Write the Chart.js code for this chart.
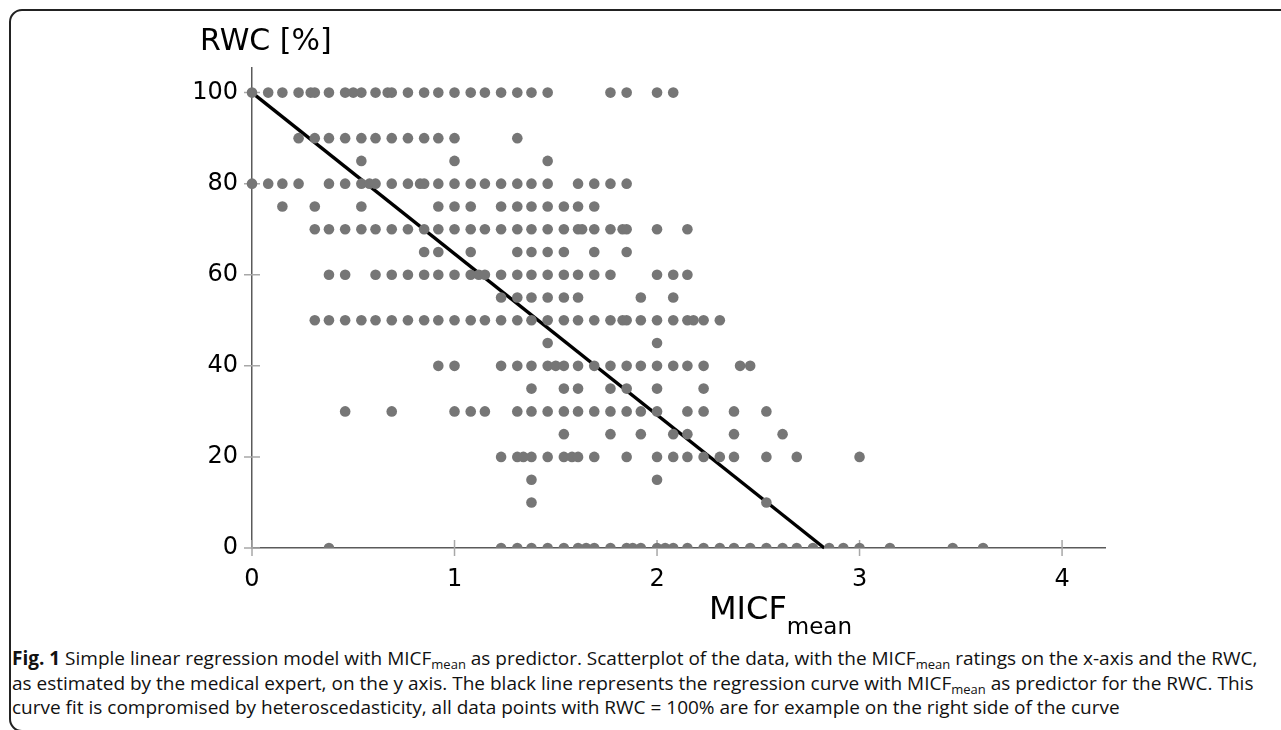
<!DOCTYPE html>
<html>
<head>
<meta charset="utf-8">
<script src="https://cdn.jsdelivr.net/npm/chart.js@4/dist/chart.umd.min.js"></script>
<style>
  html, body { margin: 0; padding: 0; background: #fff; width: 1281px; height: 730px; overflow: hidden; }
  #frame { position: absolute; left: 9px; top: 9px; width: 1320px; height: 723px; box-sizing: border-box;
           border: 2px solid #222; border-radius: 13px; }
  #plot { position: absolute; left: 0; top: 0; }
  .axt { position: absolute; font-family: "DejaVu Sans", sans-serif; color: #000; line-height: 1; white-space: nowrap; }
  #ytitle { left: 200px; top: 25px; font-size: 30px; }
  #xtitle { left: 709px; top: 592px; font-size: 32px; }
  #xtitle sub { font-size: 23px; vertical-align: -15px; line-height: 1; }
  .cap { position: absolute; left: 12px; font-family: "Open Sans", sans-serif; font-size: 19px; line-height: 24px;
         color: #111; white-space: nowrap; }
  .cap sub { font-size: 13px; vertical-align: -4px; line-height: 1; }
</style>
</head>
<body>
<div id="frame"></div>
<canvas id="plot" width="1281" height="640"></canvas>
<div class="axt" id="ytitle">RWC [%]</div>
<div class="axt" id="xtitle">MICF<sub>mean</sub></div>
<div class="cap" style="top:646px"><b>Fig. 1</b> Simple linear regression model with MICF<sub>mean</sub> as predictor. Scatterplot of the data, with the MICF<sub>mean</sub> ratings on the x-axis and the RWC,</div>
<div class="cap" style="top:671px">as estimated by the medical expert, on the y axis. The black line represents the regression curve with MICF<sub>mean</sub> as predictor for the RWC. This</div>
<div class="cap" style="top:695px">curve fit is compromised by heteroscedasticity, all data points with RWC = 100% are for example on the right side of the curve</div>
<script>
// RWC levels (y) and the MICF_mean values (x) observed at each level
const rwcLevels = [100, 90, 85, 80, 75, 70, 65, 60, 55, 50, 45, 40, 35, 30, 25, 20, 15, 10, 0];

const micfAt100 = [0, 0.08, 0.15, 0.23, 0.29, 0.31, 0.38, 0.46, 0.5, 0.54, 0.61, 0.67, 0.69, 0.77, 0.85, 0.92, 1.0, 1.08, 1.15, 1.23, 1.31, 1.38, 1.46, 1.77, 1.85, 2.0, 2.08];
const micfAt90 = [0.23, 0.31, 0.38, 0.46, 0.54, 0.61, 0.69, 0.77, 0.85, 0.92, 1.0, 1.31];
const micfAt85 = [0.54, 1.0, 1.46];
const micfAt80 = [0, 0.08, 0.15, 0.23, 0.38, 0.46, 0.54, 0.58, 0.61, 0.69, 0.77, 0.83, 0.85, 0.92, 1.0, 1.08, 1.15, 1.23, 1.31, 1.38, 1.46, 1.61, 1.69, 1.77, 1.85];
const micfAt75 = [0.15, 0.31, 0.54, 0.92, 1.0, 1.08, 1.23, 1.31, 1.38, 1.46, 1.54, 1.61, 1.69];
const micfAt70 = [0.31, 0.38, 0.46, 0.54, 0.61, 0.69, 0.77, 0.85, 0.92, 1.0, 1.08, 1.15, 1.23, 1.31, 1.38, 1.46, 1.54, 1.61, 1.63, 1.69, 1.77, 1.83, 1.85, 2.0, 2.15];
const micfAt65 = [0.85, 0.92, 1.08, 1.31, 1.38, 1.46, 1.54, 1.69, 1.85];
const micfAt60 = [0.38, 0.46, 0.61, 0.69, 0.77, 0.85, 0.92, 1.0, 1.08, 1.12, 1.15, 1.23, 1.31, 1.38, 1.46, 1.54, 1.61, 1.69, 1.77, 2.0, 2.08, 2.15];
const micfAt55 = [1.23, 1.31, 1.38, 1.46, 1.54, 1.61, 1.92, 2.08];
const micfAt50 = [0.31, 0.38, 0.46, 0.54, 0.61, 0.69, 0.77, 0.85, 0.92, 1.0, 1.08, 1.15, 1.23, 1.31, 1.38, 1.46, 1.54, 1.61, 1.69, 1.77, 1.83, 1.85, 1.92, 2.0, 2.08, 2.15, 2.18, 2.23, 2.31];
const micfAt45 = [1.46, 2.0];
const micfAt40 = [0.92, 1.0, 1.23, 1.31, 1.38, 1.46, 1.5, 1.54, 1.61, 1.69, 1.77, 1.85, 1.92, 2.0, 2.08, 2.15, 2.23, 2.41, 2.46];
const micfAt35 = [1.38, 1.54, 1.61, 1.77, 1.85, 2.0, 2.23];
const micfAt30 = [0.46, 0.69, 1.0, 1.08, 1.15, 1.31, 1.38, 1.46, 1.54, 1.61, 1.69, 1.77, 1.85, 1.92, 2.0, 2.15, 2.23, 2.38, 2.54];
const micfAt25 = [1.54, 1.77, 1.92, 2.08, 2.15, 2.38, 2.62];
const micfAt20 = [1.23, 1.31, 1.34, 1.38, 1.46, 1.54, 1.58, 1.61, 1.69, 1.85, 2.0, 2.08, 2.15, 2.23, 2.31, 2.38, 2.54, 2.69, 3.0];
const micfAt15 = [1.38, 2.0];
const micfAt10 = [1.38, 2.54];
const micfAt0 = [0.38, 1.23, 1.31, 1.38, 1.46, 1.54, 1.61, 1.65, 1.69, 1.77, 1.85, 1.88, 1.92, 2.0, 2.04, 2.08, 2.15, 2.23, 2.31, 2.38, 2.46, 2.54, 2.62, 2.69, 2.77, 2.85, 2.92, 3.0, 3.15, 3.46, 3.61];

const micfByLevel = [micfAt100, micfAt90, micfAt85, micfAt80, micfAt75, micfAt70, micfAt65, micfAt60, micfAt55,
                     micfAt50, micfAt45, micfAt40, micfAt35, micfAt30, micfAt25, micfAt20, micfAt15, micfAt10, micfAt0];

// regression line end points (MICF_mean, RWC)
const fitX = [0, 2.826];
const fitY = [100, 0];

const xTicks = [0, 1, 2, 3, 4];
const yTicks = [0, 20, 40, 60, 80, 100];

const points = [];
rwcLevels.forEach((rwc, i) => micfByLevel[i].forEach(m => points.push({ x: m, y: rwc })));

// axis ticks crossing the axis lines
const crossTicks = {
  id: 'crossTicks',
  beforeDatasetsDraw(chart) {
    const { ctx, chartArea, scales } = chart;
    ctx.save();
    ctx.strokeStyle = '#a8a8a8';
    ctx.lineWidth = 1.5;
    ctx.beginPath();
    xTicks.forEach(v => {
      const px = scales.x.getPixelForValue(v);
      ctx.moveTo(px, chartArea.bottom - 8);
      ctx.lineTo(px, chartArea.bottom + 8);
    });
    yTicks.forEach(v => {
      const py = scales.y.getPixelForValue(v);
      ctx.moveTo(chartArea.left - 8, py);
      ctx.lineTo(chartArea.left + 8, py);
    });
    ctx.stroke();
    ctx.restore();
  }
};

const chart = new Chart(document.getElementById('plot'), {
  type: 'scatter',
  data: {
    datasets: [
      {
        label: 'Data',
        data: points,
        backgroundColor: '#767676',
        borderWidth: 0,
        pointRadius: 5.3,
        clip: { left: 10, top: 10, right: 10, bottom: 0 }
      },
      {
        label: 'Regression',
        type: 'line',
        data: fitX.map((x, i) => ({ x: x, y: fitY[i] })),
        borderColor: '#000',
        borderWidth: 3.4,
        pointRadius: 0,
        fill: false,
        clip: false
      }
    ]
  },
  options: {
    responsive: false,
    animation: false,
    layout: { padding: { left: 0, top: 68, right: 176, bottom: 0 } },
    plugins: { legend: { display: false }, tooltip: { enabled: false } },
    scales: {
      x: {
        type: 'linear',
        min: 0,
        max: 4.212,
        afterFit(scale) { scale.height = 92; },
        afterBuildTicks(scale) { scale.ticks = xTicks.map(v => ({ value: v })); },
        grid: { display: false, drawTicks: false },
        border: { display: true, color: '#5a5a5a', width: 1.5 },
        ticks: { padding: 17, color: '#000', font: { family: 'DejaVu Sans', size: 24 } }
      },
      y: {
        type: 'linear',
        min: 0,
        max: 105.4,
        afterFit(scale) { scale.width = 252; },
        afterBuildTicks(scale) { scale.ticks = yTicks.map(v => ({ value: v })); },
        grid: { display: false, drawTicks: false },
        border: { display: true, color: '#5a5a5a', width: 1.5 },
        ticks: { padding: 14, color: '#000', font: { family: 'DejaVu Sans', size: 24 } }
      }
    }
  },
  plugins: [crossTicks]
});
</script>
</body>
</html>
